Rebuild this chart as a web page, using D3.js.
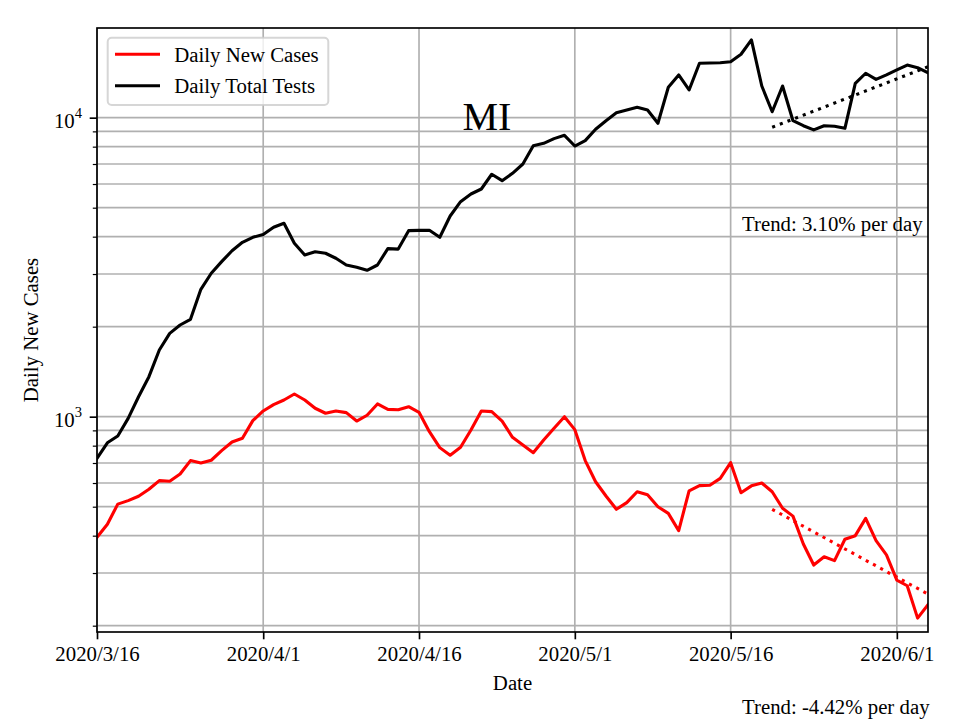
<!DOCTYPE html>
<html><head><meta charset="utf-8">
<script src="https://cdn.jsdelivr.net/npm/d3@7"></script>
<style>
body{margin:0;background:#fff}
svg{display:block}
text{font-family:"Liberation Serif","Times New Roman",Times,serif;fill:#000}
</style>
</head><body>
<svg id="c" width="960" height="720"></svg>
<script>
// ---------- data ----------
const startDate = "2020-03-16";
const seriesNames = ["Daily New Cases", "Daily Total Tests"];
const cases = [395,437,510,524,542,572,611,608,643,713,700,715,770,823,847,970,1045,1097,1137,1191,
  1137,1067,1027,1045,1032,967,1011,1103,1058,1055,1080,1034,891,788,743,790,903,1045,1040,967,
  853,804,758,836,915,1000,905,713,606,543,490,516,561,548,500,475,416,565,588,590,
  622,702,557,587,600,561,494,465,375,319,340,330,389,400,457,385,345,284,272,212,235];
const tests = [726,818,862,987,1166,1361,1671,1900,2026,2116,2667,3018,3300,3589,3830,3981,4065,4300,4433,3802,
  3474,3563,3520,3388,3216,3160,3088,3216,3648,3635,4190,4200,4200,3981,4690,5236,5556,5774,6468,6156,
  6516,7000,8060,8210,8510,8730,8040,8380,9150,9770,10390,10610,10835,10610,9580,12640,13900,12380,15200,15230,
  15270,15390,16300,18200,12760,10470,12760,9770,9400,9100,9400,9360,9215,13030,14080,13430,13900,14440,15000,14700,14140];
const xTickLabels = ["2020/3/16","2020/4/1","2020/4/16","2020/5/1","2020/5/16","2020/6/1"];
const yMajorTicks = [1000, 10000];
const trendDates = ["2020-05-20","2020-06-04"];
const casesTrend = [490, 255];
const testsTrend = [9290, 14800];
const trendLabels = ["Trend: 3.10% per day", "Trend: -4.42% per day"];
const titleText = "MI";
const xLabel = "Date";
const yLabel = "Daily New Cases";

// ---------- setup ----------
const M = {left: 97, right: 928, top: 28, bottom: 632};
const svg = d3.select("#c");
const FS = 20.8;
const parseISO = d3.utcParse("%Y-%m-%d");
const parseSlash = s => { const [a,b,c] = s.split("/").map(Number); return new Date(Date.UTC(a, b-1, c)); };

const start = parseISO(startDate);
const dates = cases.map((_, i) => d3.utcDay.offset(start, i));
const x = d3.scaleUtc().domain([dates[0], dates[dates.length-1]]).range([M.left, M.right]);
const y = d3.scaleLog().domain([190.5, 19950]).range([M.bottom, M.top]);

const xTicks = xTickLabels.map(parseSlash);
const yAll = y.ticks().filter(v => v >= y.domain()[0] && v <= y.domain()[1]);
const yMinor = yAll.filter(v => !yMajorTicks.includes(v));

// clip
svg.append("defs").append("clipPath").attr("id","clip")
  .append("rect").attr("x",M.left).attr("y",M.top).attr("width",M.right-M.left).attr("height",M.bottom-M.top);

// grid
const grid = svg.append("g").attr("stroke","#b0b0b0").attr("stroke-width",1.67);
grid.selectAll("line.h").data(yAll).join("line")
  .attr("x1",M.left).attr("x2",M.right).attr("y1",d=>y(d)).attr("y2",d=>y(d));
grid.selectAll("line.v").data(xTicks).join("line")
  .attr("y1",M.top).attr("y2",M.bottom).attr("x1",d=>x(d)).attr("x2",d=>x(d));

// lines
const plot = svg.append("g").attr("clip-path","url(#clip)");
const line = d3.line().x((d,i)=>x(dates[i])).y(d=>y(d));
plot.append("path").datum(cases).attr("d",line).attr("fill","none")
  .attr("stroke","#ff0000").attr("stroke-width",3.1).attr("stroke-linejoin","round").attr("stroke-linecap","square");
plot.append("path").datum(tests).attr("d",line).attr("fill","none")
  .attr("stroke","#000").attr("stroke-width",3.1).attr("stroke-linejoin","round").attr("stroke-linecap","square");

const tDates = trendDates.map(parseISO);
const tline = d3.line().x((d,i)=>x(tDates[i])).y(d=>y(d));
plot.append("path").datum(casesTrend).attr("d",tline).attr("fill","none")
  .attr("stroke","#ff0000").attr("stroke-width",3.1).attr("stroke-dasharray","3.1,5.1");
plot.append("path").datum(testsTrend).attr("d",tline).attr("fill","none")
  .attr("stroke","#000").attr("stroke-width",3.1).attr("stroke-dasharray","3.1,5.1");

// axes
const fmt = d => `${d.getUTCFullYear()}/${d.getUTCMonth()+1}/${d.getUTCDate()}`;
const xAxis = svg.append("g").attr("transform",`translate(0,${M.bottom})`)
  .call(d3.axisBottom(x).tickValues(xTicks).tickFormat(fmt).tickSize(7.3).tickPadding(7.3));
xAxis.select(".domain").remove();
xAxis.selectAll(".tick line").attr("stroke","#000").attr("stroke-width",1.67);
xAxis.selectAll(".tick text").attr("font-size",FS).attr("font-family","Liberation Serif").attr("fill","#000");

const yAxisMinor = svg.append("g").attr("transform",`translate(${M.left},0)`)
  .call(d3.axisLeft(y).tickValues(yMinor).tickFormat("").tickSize(4.2));
yAxisMinor.select(".domain").remove();
yAxisMinor.selectAll(".tick line").attr("stroke","#000").attr("stroke-width",1.2);

const yAxis = svg.append("g").attr("transform",`translate(${M.left},0)`)
  .call(d3.axisLeft(y).tickValues(yMajorTicks).tickFormat("").tickSize(7.3));
yAxis.select(".domain").remove();
yAxis.selectAll(".tick line").attr("stroke","#000").attr("stroke-width",1.67);
yAxis.selectAll(".tick text").remove();
yAxis.selectAll(".tick").append("text")
  .attr("x",-15).attr("y",10).attr("text-anchor","end").attr("font-size",FS)
  .attr("font-family","Liberation Serif").attr("fill","#000")
  .each(function(d){
    const t = d3.select(this);
    t.append("tspan").text("10");
    t.append("tspan").attr("font-size",14.6).attr("dy",-10).text(String(Math.round(Math.log10(d))));
  });

// spines
svg.append("rect").attr("x",M.left).attr("y",M.top).attr("width",M.right-M.left).attr("height",M.bottom-M.top)
  .attr("fill","none").attr("stroke","#000").attr("stroke-width",1.67);

// labels
svg.append("text").attr("x",(M.left+M.right)/2).attr("y",689.5).attr("text-anchor","middle")
  .attr("font-size",FS).text(xLabel);
svg.append("text").attr("transform","translate(38,330) rotate(-90)").attr("text-anchor","middle")
  .attr("font-size",FS).text(yLabel);
svg.append("text").attr("x",487).attr("y",130).attr("text-anchor","middle")
  .attr("font-size",40).text(titleText);
svg.append("text").attr("x",742).attr("y",230.5).attr("font-size",FS).text(trendLabels[0]);
svg.append("text").attr("x",742).attr("y",714).attr("font-size",FS).text(trendLabels[1]);

// legend
const lg = svg.append("g");
lg.append("rect").attr("x",107.7).attr("y",37.7).attr("width",220.6).attr("height",67.3).attr("rx",4)
  .attr("fill","#fff").attr("fill-opacity",0.8).attr("stroke","#cccccc").attr("stroke-opacity",0.8).attr("stroke-width",2);
const lcol = ["#ff0000","#000"];
seriesNames.forEach((n,i)=>{
  const yy = 54.3 + i*31.4;
  lg.append("line").attr("x1",115).attr("x2",160).attr("y1",yy).attr("y2",yy)
    .attr("stroke",lcol[i]).attr("stroke-width",3.1);
  lg.append("text").attr("x",174.3).attr("y",yy+7.3).attr("font-size",FS).text(n);
});
</script>
</body></html>
